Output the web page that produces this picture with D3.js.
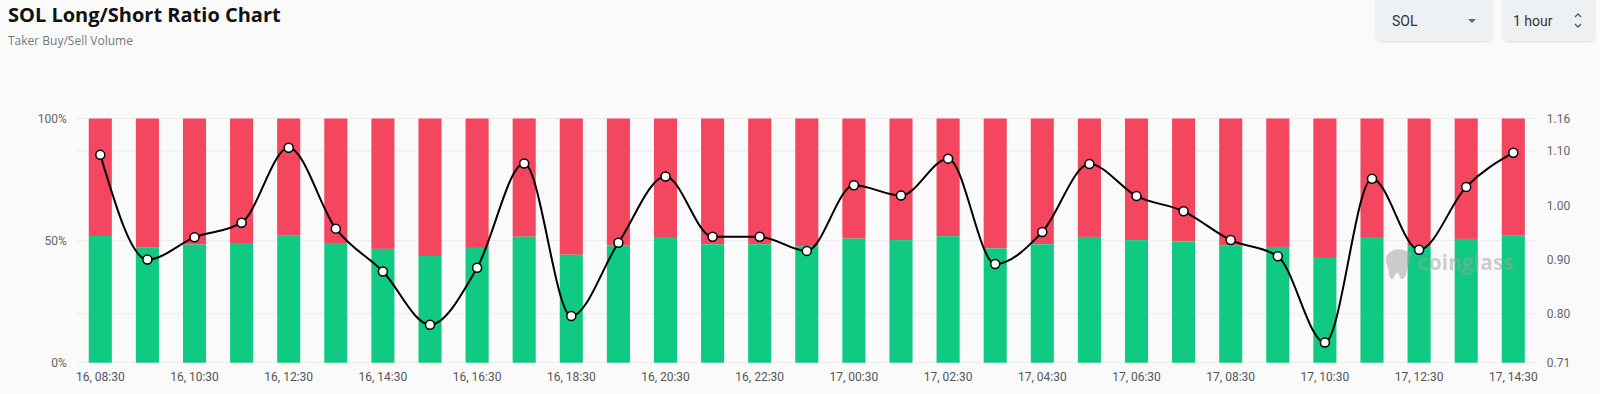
<!DOCTYPE html>
<html>
<head>
<meta charset="utf-8">
<script src="https://cdn.jsdelivr.net/npm/d3@7"></script>
<style>
  html, body { margin: 0; padding: 0; background: #fafafa; }
  #container { width: 1600px; height: 394px; overflow: hidden; }
  text { font-family: Roboto, "Noto Sans", sans-serif; }
</style>
</head>
<body>
<div id="container"></div>
<script>
/* DATA */
const times = [
  "16, 08:30", "16, 09:30", "16, 10:30", "16, 11:30", "16, 12:30", "16, 13:30",
  "16, 14:30", "16, 15:30", "16, 16:30", "16, 17:30", "16, 18:30", "16, 19:30",
  "16, 20:30", "16, 21:30", "16, 22:30", "16, 23:30", "17, 00:30", "17, 01:30",
  "17, 02:30", "17, 03:30", "17, 04:30", "17, 05:30", "17, 06:30", "17, 07:30",
  "17, 08:30", "17, 09:30", "17, 10:30", "17, 11:30", "17, 12:30", "17, 13:30",
  "17, 14:30"
]
// buy (long) share of taker volume, %
const longPct = [
  51.9, 47.3, 48.4, 49.0, 52.2, 49.0, 46.6, 43.7, 47.0, 51.6, 44.2, 48.1,
  51.1, 48.5, 48.5, 47.7, 50.8, 50.2, 51.8, 46.8, 48.5, 51.5, 50.2, 49.6,
  48.1, 47.4, 42.9, 51.1, 47.7, 50.7, 52.2
]
// long/short ratio (right axis)
const ratio = [
  1.093, 0.900, 0.941, 0.968, 1.106, 0.957, 0.878, 0.780, 0.885, 1.077, 0.796, 0.931,
  1.053, 0.942, 0.942, 0.916, 1.037, 1.018, 1.086, 0.892, 0.951, 1.076, 1.017, 0.989,
  0.936, 0.906, 0.747, 1.049, 0.918, 1.034, 1.097
]
const pctTicks = [0, 50, 100]
const ratioTicks = [0.71, 0.80, 0.90, 1.00, 1.10, 1.16]
const ratioGrid = [0.80, 1.10]

/* CONSTANTS */
const width = 1600,
  height = 394,
  margin = { top: 118.5, bottom: 31.3, left: 76.75, right: 63.15 }

const green = "#10c982"
const red = "#f4465e"

const data = times.map((t, i) => ({ time: t, long: longPct[i], ratio: ratio[i] }))

const svg = d3.select("#container")
  .append("svg")
  .attr("width", width)
  .attr("height", height)

/* SCALES */
const xScale = d3.scaleBand()
  .domain(times)
  .range([margin.left, width - margin.right])
  .paddingInner(0.51)
  .paddingOuter(0.255)

const yScale = d3.scaleLinear()
  .domain([0, 100])
  .range([height - margin.bottom, margin.top])

const rScale = d3.scaleLinear()
  .domain([0.71, 1.16])
  .range([height - margin.bottom, margin.top])

/* GRID */
svg.append("g")
  .selectAll("line")
  .data(pctTicks.map(d => yScale(d)).concat(ratioGrid.map(d => rScale(d))))
  .join("line")
  .attr("x1", margin.left)
  .attr("x2", width - margin.right)
  .attr("y1", d => d)
  .attr("y2", d => d)
  .attr("stroke", "#ececec")
  .attr("stroke-width", 1)

/* BARS */
const bars = svg.append("g")
bars.selectAll("rect.short")
  .data(data)
  .join("rect")
  .attr("class", "short")
  .attr("x", d => xScale(d.time))
  .attr("width", xScale.bandwidth())
  .attr("y", yScale(100))
  .attr("height", d => yScale(d.long) - yScale(100))
  .attr("fill", red)

bars.selectAll("rect.long")
  .data(data)
  .join("rect")
  .attr("class", "long")
  .attr("x", d => xScale(d.time))
  .attr("width", xScale.bandwidth())
  .attr("y", d => yScale(d.long))
  .attr("height", d => yScale(0) - yScale(d.long))
  .attr("fill", green)

/* AXES */
const leftAxis = d3.axisLeft(yScale)
  .tickValues(pctTicks)
  .tickFormat(d => d + "%")
  .tickSize(0)
  .tickPadding(10)
svg.append("g")
  .attr("transform", `translate(${margin.left},0)`)
  .call(leftAxis)
  .call(g => g.select(".domain").remove())
  .call(g => g.selectAll("text").attr("fill", "#666").style("font-size", "12px"))

const rightAxis = d3.axisRight(rScale)
  .tickValues(ratioTicks)
  .tickFormat(d3.format(".2f"))
  .tickSize(0)
  .tickPadding(10)
svg.append("g")
  .attr("transform", `translate(${width - margin.right},0)`)
  .call(rightAxis)
  .call(g => g.select(".domain").remove())
  .call(g => g.selectAll("text").attr("fill", "#666").style("font-size", "12px"))

const xAxis = d3.axisBottom(xScale)
  .tickValues(times.filter((d, i) => i % 2 === 0))
  .tickSize(0)
  .tickPadding(10)
svg.append("g")
  .attr("transform", `translate(0,${height - margin.bottom})`)
  .call(xAxis)
  .call(g => g.select(".domain").remove())
  .call(g => g.selectAll("text").attr("fill", "#555").style("font-size", "12px"))

/* WATERMARK */
const wm = svg.append("g").attr("opacity", 0.5)
wm.append("path")
  .attr("transform", "translate(1386,249)")
  .attr("d", "M6,2 C10,-1 18,0 22,3 C26,1 27,6 24,9 C25,14 22,17 21,21 C20,26 19,30 16,30 C13,30 14,24 11,24 C8,24 9,30 6,30 C3,30 3,24 2,19 C0,14 -1,9 1,6 C2,4 4,3 6,2 Z")
  .attr("fill", "#a0a0a0")
wm.append("text")
  .attr("x", 1418)
  .attr("y", 270)
  .text("coinglass")
  .attr("fill", "#a0a0a0")
  .style("font-size", "21px")
  .style("font-weight", "bold")
  .style("font-family", "'Open Sans', sans-serif")

/* LINE */
const line = d3.line()
  .x(d => xScale(d.time) + xScale.bandwidth() / 2)
  .y(d => rScale(d.ratio))
  .curve(d3.curveMonotoneX)

svg.append("path")
  .datum(data)
  .attr("d", line)
  .attr("fill", "none")
  .attr("stroke", "#000")
  .attr("stroke-width", 2)

svg.append("g")
  .selectAll("circle")
  .data(data)
  .join("circle")
  .attr("cx", d => xScale(d.time) + xScale.bandwidth() / 2)
  .attr("cy", d => rScale(d.ratio))
  .attr("r", 4.5)
  .attr("fill", "#fff")
  .attr("stroke", "#000")
  .attr("stroke-width", 1.5)

/* TITLE */
svg.append("text")
  .attr("x", 8)
  .attr("y", 22)
  .text("SOL Long/Short Ratio Chart")
  .attr("fill", "#111")
  .style("font-size", "20px")
  .style("font-weight", "bold")
  .style("font-family", "'Open Sans', sans-serif")

svg.append("text")
  .attr("x", 8)
  .attr("y", 45)
  .text("Taker Buy/Sell Volume")
  .attr("fill", "#777")
  .style("font-size", "12px")
  .style("font-family", "'Open Sans', sans-serif")

/* CONTROLS */
const controls = [
  { label: "SOL", x: 1376, w: 116, icon: "caret" },
  { label: "1 hour", x: 1503, w: 92, icon: "updown" }
]
const defs = svg.append("defs")
defs.append("filter")
  .attr("id", "shadow")
  .attr("x", "-10%").attr("y", "-20%").attr("width", "120%").attr("height", "150%")
  .append("feDropShadow")
  .attr("dx", 0).attr("dy", 1).attr("stdDeviation", 1.2)
  .attr("flood-color", "#000").attr("flood-opacity", 0.12)

controls.forEach(c => {
  const g = svg.append("g").attr("transform", `translate(${c.x},0)`)
  g.append("rect")
    .attr("x", 0).attr("y", -6)
    .attr("width", c.w).attr("height", 47)
    .attr("rx", 6)
    .attr("fill", "#eef1f4")
    .attr("filter", "url(#shadow)")
  g.append("text")
    .attr("x", c.label === "SOL" ? 16 : 10)
    .attr("y", 26)
    .text(c.label)
    .attr("fill", "#333")
    .style("font-size", "14px")
    .style("font-family", "Roboto, sans-serif")
  if (c.icon === "caret") {
    g.append("path")
      .attr("d", `M${c.w - 24},19 h8 l-4,4 Z`)
      .attr("fill", "#666")
  } else {
    g.append("path")
      .attr("d", `M${c.w - 20},17 l3,-3 l3,3 M${c.w - 20},24 l3,3 l3,-3`)
      .attr("fill", "none")
      .attr("stroke", "#555")
      .attr("stroke-width", 1.3)
  }
})
</script>
</body>
</html>
